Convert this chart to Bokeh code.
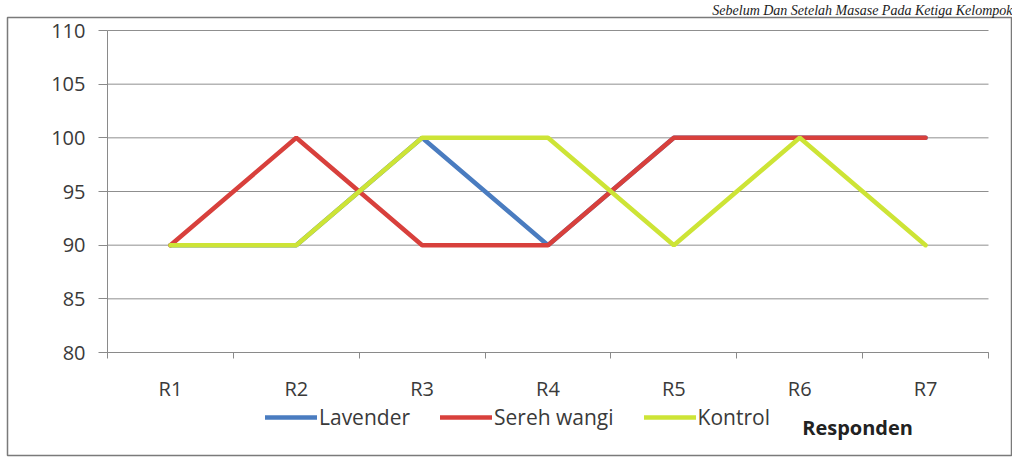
from bokeh.plotting import figure
from bokeh.models import Range1d, FixedTicker, Legend, LegendItem, Label, Title
from bokeh.embed import file_html
from bokeh.resources import INLINE

# ---- data ----
categories = ["R1", "R2", "R3", "R4", "R5", "R6", "R7"]
lavender = [90, 90, 100, 90, 100, 100, 100]
sereh_wangi = [90, 100, 90, 90, 100, 100, 100]
kontrol = [90, 90, 100, 100, 90, 100, 90]
y_ticks = [80, 85, 90, 95, 100, 105, 110]
title_text = "Sebelum Dan Setelah Masase Pada Ketiga Kelompok"
x_title = "Responden"

series = [("Lavender", lavender, "#4a7cc0"),
          ("Sereh wangi", sereh_wangi, "#d8403c"),
          ("Kontrol", kontrol, "#cde436")]

FONT = "Open Sans"
n = len(categories)
xs = [i + 0.5 for i in range(n)]
y_lo, y_hi = y_ticks[0], y_ticks[-1]

# ---- layout (pixels) ----
W, H = 1012, 458
FRAME_L, FRAME_R, FRAME_T, FRAME_B = 7, 1012, 17, 455    # outer chart border
AREA_L, AREA_R, AREA_T, AREA_B = 107, 988, 30, 352       # plot area
ppx = (AREA_R - AREA_L) / n
ppy = (AREA_B - AREA_T) / (y_hi - y_lo)
x0 = (FRAME_L - AREA_L) / ppx
x1 = n + (FRAME_R - AREA_R) / ppx
y1 = y_hi + (AREA_T - FRAME_T) / ppy
y0 = y_lo - (FRAME_B - AREA_B) / ppy

p = figure(width=W, height=H, output_backend="svg", toolbar_location=None,
           x_range=Range1d(x0, x1), y_range=Range1d(y0, y1),
           min_border_left=FRAME_L, min_border_right=W - FRAME_R,
           min_border_top=FRAME_T, min_border_bottom=H - FRAME_B)
p.outline_line_color = "#7a7a7a"
p.outline_line_width = 1.5
p.background_fill_color = "white"
p.border_fill_color = "white"

p.title = Title(text=title_text, align="right", text_font="Liberation Serif",
                text_font_size="14px", text_font_style="italic", text_color="#222222",
                standoff=0, offset=0)

# horizontal gridlines limited to the plot area
p.segment(x0=[0] * len(y_ticks), x1=[n] * len(y_ticks), y0=y_ticks, y1=y_ticks,
          line_color="#8f8f8f", line_width=1)

# axes drawn at fixed data positions inside the frame
xa = p.xaxis[0]
xa.fixed_location = y_lo
xa.bounds = (0, n)
xa.ticker = FixedTicker(ticks=xs, minor_ticks=list(range(n + 1)))
xa.major_label_overrides = {x: c for x, c in zip(xs, categories)}
xa.major_tick_out = 0
xa.major_tick_in = 0
xa.minor_tick_out = 6
xa.minor_tick_in = 0
xa.minor_tick_line_color = "#8a8a8a"
xa.axis_line_color = "#8a8a8a"
xa.major_label_standoff = 16
xa.major_label_text_font = FONT
xa.major_label_text_font_size = "20px"
xa.major_label_text_color = "#3a3a3a"

ya = p.yaxis[0]
ya.fixed_location = 0
ya.bounds = (y_lo, y_hi)
ya.ticker = FixedTicker(ticks=y_ticks, minor_ticks=[])
ya.major_tick_out = 9
ya.major_tick_in = 0
ya.major_tick_line_color = "#8a8a8a"
ya.axis_line_color = "#8a8a8a"
ya.major_label_standoff = 13
ya.major_label_text_font = FONT
ya.major_label_text_font_size = "20px"
ya.major_label_text_color = "#3a3a3a"

p.xgrid.grid_line_color = None
p.ygrid.grid_line_color = None

# lines
items = []
for name, vals, col in series:
    r = p.line(xs, vals, line_color=col, line_width=4.5, line_cap="round")
    items.append(LegendItem(label=name, renderers=[r]))

legend = Legend(items=items, orientation="horizontal", location=(258, 24),
                label_text_font=FONT, label_text_font_size="21px", label_text_color="#3a3a3a",
                glyph_width=52, glyph_height=20, label_standoff=2, spacing=30,
                padding=0, margin=0, border_line_color=None, background_fill_alpha=0)
p.add_layout(legend, "center")

p.add_layout(Label(x=5.96, y=73.0, text=x_title, text_font=FONT, text_font_size="20px",
                   text_font_style="bold", text_align="center", text_baseline="middle",
                   text_color="#222222"))

open("out.html", "w").write(file_html(p, INLINE))
